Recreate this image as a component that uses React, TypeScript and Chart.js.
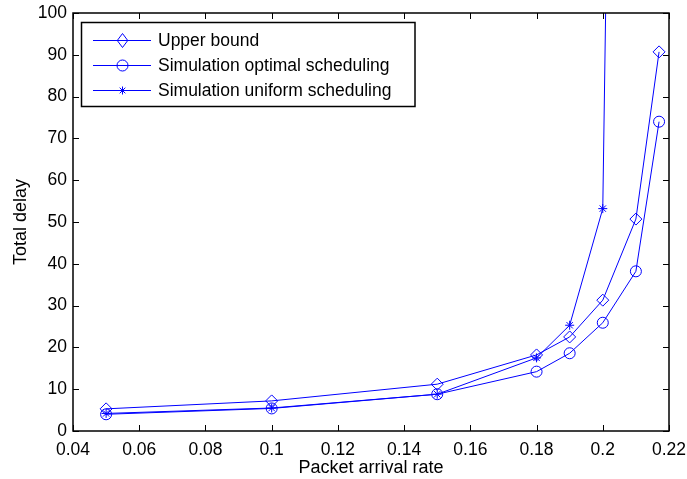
import React, { useEffect, useRef } from "react";
import { Chart, registerables } from "chart.js";

Chart.register(...registerables);

const xUpper = [0.05, 0.1, 0.15, 0.18, 0.19, 0.2, 0.21, 0.217];
const yUpper = [5.3, 7.2, 11.2, 18.2, 22.5, 31.3, 50.7, 90.7];
const xOptimal = [0.05, 0.1, 0.15, 0.18, 0.19, 0.2, 0.21, 0.217];
const yOptimal = [4.0, 5.4, 8.8, 14.2, 18.6, 25.9, 38.2, 74.0];
const xUniform = [0.05, 0.1, 0.15, 0.18, 0.19, 0.2, 0.21];
const yUniform = [4.2, 5.5, 8.8, 17.5, 25.3, 53.2, 600];
const seriesNames = ["Upper bound", "Simulation optimal scheduling", "Simulation uniform scheduling"];
const xTicks = [0.04, 0.06, 0.08, 0.1, 0.12, 0.14, 0.16, 0.18, 0.2, 0.22];
const yTicks = [0, 10, 20, 30, 40, 50, 60, 70, 80, 90, 100];

const BLUE = "#0000ff";
const FONT = "Arial, 'Liberation Sans', Helvetica, sans-serif";
const markerStyles = ["rectRot", "circle", "star"];
const markerRadii = [6, 5.5, 4.5];

function drawMarker(ctx: CanvasRenderingContext2D, style: string, x: number, y: number, r: number) {
  ctx.beginPath();
  if (style === "rectRot") {
    ctx.moveTo(x, y - r);
    ctx.lineTo(x + r * 0.75, y);
    ctx.lineTo(x, y + r);
    ctx.lineTo(x - r * 0.75, y);
    ctx.closePath();
  } else if (style === "circle") {
    ctx.arc(x, y, r, 0, Math.PI * 2);
  } else {
    for (let i = 0; i < 4; i++) {
      const a = (i * Math.PI) / 4;
      ctx.moveTo(x - Math.cos(a) * r, y - Math.sin(a) * r);
      ctx.lineTo(x + Math.cos(a) * r, y + Math.sin(a) * r);
    }
  }
  ctx.stroke();
}

const framePlugin = {
  id: "frame",
  afterDatasetsDraw(chart: any) {
    const { ctx, chartArea: a, scales } = chart;
    ctx.save();
    ctx.strokeStyle = "#000";
    ctx.lineWidth = 1;
    const tl = 6;
    ctx.beginPath();
    for (const v of xTicks) {
      const px = Math.round(scales.x.getPixelForValue(v)) + 0.5;
      ctx.moveTo(px, a.bottom);
      ctx.lineTo(px, a.bottom - tl);
      ctx.moveTo(px, a.top);
      ctx.lineTo(px, a.top + tl);
    }
    for (const v of yTicks) {
      const py = Math.round(scales.y.getPixelForValue(v)) + 0.5;
      ctx.moveTo(a.left, py);
      ctx.lineTo(a.left + tl, py);
      ctx.moveTo(a.right, py);
      ctx.lineTo(a.right - tl, py);
    }
    ctx.stroke();
    ctx.lineWidth = 1.5;
    ctx.strokeRect(a.left, a.top, a.right - a.left, a.bottom - a.top);

    // legend
    const lx = 81.5, ly = 22.5, lw = 333.5, lh = 84;
    ctx.fillStyle = "#fff";
    ctx.fillRect(lx, ly, lw, lh);
    ctx.lineWidth = 1.5;
    ctx.strokeStyle = "#000";
    ctx.strokeRect(lx, ly, lw, lh);
    const rows = [40, 65, 90];
    const lr = [7, 5.5, 4];
    ctx.font = `17.5px ${FONT}`;
    ctx.textBaseline = "middle";
    for (let i = 0; i < 3; i++) {
      ctx.strokeStyle = BLUE;
      ctx.lineWidth = 1;
      ctx.beginPath();
      ctx.moveTo(93, rows[i] + 0.5);
      ctx.lineTo(151, rows[i] + 0.5);
      ctx.stroke();
      drawMarker(ctx, markerStyles[i], 122.5, rows[i] + 0.5, lr[i]);
      ctx.fillStyle = "#000";
      ctx.fillText(seriesNames[i], 158, rows[i] + 1);
    }
    ctx.restore();
  },
};

export default function App() {
  const ref = useRef<HTMLCanvasElement>(null);
  useEffect(() => {
    document.body.style.margin = "0";
    const mk = (xs: number[], ys: number[], i: number) => ({
      label: seriesNames[i],
      data: xs.map((x, k) => ({ x, y: ys[k] })),
      borderColor: BLUE,
      borderWidth: 1,
      pointStyle: markerStyles[i],
      pointRadius: markerRadii[i],
      pointBorderColor: BLUE,
      pointBackgroundColor: "rgba(0,0,0,0)",
      pointBorderWidth: 1,
      fill: false,
      tension: 0,
    });
    const chart = new Chart(ref.current!, {
      type: "line",
      data: {
        datasets: [mk(xUpper, yUpper, 0), mk(xOptimal, yOptimal, 1), mk(xUniform, yUniform, 2)],
      },
      options: {
        animation: false,
        responsive: false,
        layout: { padding: { left: 0, top: 13, right: 18, bottom: 0 } },
        plugins: { legend: { display: false }, tooltip: { enabled: false } },
        scales: {
          x: {
            type: "linear",
            min: 0.04,
            max: 0.22,
            afterFit: (s: any) => { s.height = 48; s.paddingRight = 0; s.paddingLeft = 0; },
            afterBuildTicks: (s: any) => { s.ticks = xTicks.map((v) => ({ value: v })); },
            grid: { display: false, drawTicks: false },
            border: { display: false },
            ticks: {
              padding: 9,
              maxRotation: 0,
              color: "#000",
              font: { family: FONT, size: 17.5 },
              callback: (v: any) => String(Number(Number(v).toFixed(2))),
            },
            title: { display: true, text: "Packet arrival rate", color: "#000", font: { family: FONT, size: 18 }, padding: { top: 1, bottom: 0 } },
          },
          y: {
            min: 0,
            max: 100,
            afterFit: (s: any) => { s.width = 73; s.paddingTop = 0; s.paddingBottom = 0; },
            afterBuildTicks: (s: any) => { s.ticks = yTicks.map((v) => ({ value: v })); },
            grid: { display: false, drawTicks: false },
            border: { display: false },
            ticks: { padding: 6, color: "#000", font: { family: FONT, size: 17.5 } },
            title: { display: true, text: "Total delay", color: "#000", font: { family: FONT, size: 18 }, padding: { top: 10, bottom: 0 } },
          },
        },
      },
      plugins: [framePlugin],
    });
    return () => chart.destroy();
  }, []);
  return <canvas ref={ref} width={687} height={479} style={{ display: "block" }} />;
}
